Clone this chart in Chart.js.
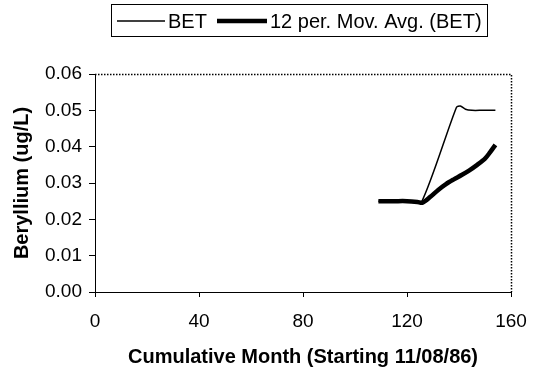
<!DOCTYPE html>
<html>
<head>
<meta charset="utf-8">
<script src="https://cdn.jsdelivr.net/npm/chart.js@4.4.9/dist/chart.umd.min.js"></script>
<style>
  html, body { margin: 0; padding: 0; background: #fff; }
  #wrap { width: 533px; height: 375px; }
</style>
</head>
<body>
<div id="wrap"><canvas id="myChart" width="533" height="375"></canvas></div>
<script>
// raw BET readings (month, ug/L)
const betMonths = [109, 113, 117, 121, 125.5, 139, 140.5, 142.5, 145, 149, 154];
const betValues = [0.025, 0.025, 0.025, 0.025, 0.0246, 0.0508, 0.0512, 0.0503, 0.0500, 0.0500, 0.0500];

// 12 period moving average
const avgMonths = [109, 115, 120, 124, 126, 129, 132, 135, 138, 141, 144, 147, 150, 152, 154];
const avgValues = [0.025, 0.025, 0.025, 0.0248, 0.0246, 0.0262, 0.0281, 0.0297, 0.0310, 0.0322, 0.0335, 0.0350, 0.0367, 0.0385, 0.0405];

const xTicks = [0, 40, 80, 120, 160];
const yTicks = [0, 0.01, 0.02, 0.03, 0.04, 0.05, 0.06];

const seriesNames = ["BET", "12 per. Mov. Avg. (BET)"];

const FONT = "'Liberation Sans', Arial, sans-serif";

// dotted frame on top and right + boxed legend like the old excel chart
const frameAndLegend = {
  id: "frameAndLegend",
  afterDraw(chart) {
    const { ctx, chartArea: a } = chart;
    ctx.save();
    ctx.strokeStyle = "#000";
    ctx.lineWidth = 1.5;
    ctx.setLineDash([1.5, 1.5]);
    ctx.beginPath();
    ctx.moveTo(a.left, a.top + 0.5);
    ctx.lineTo(a.right + 0.5, a.top + 0.5);
    ctx.lineTo(a.right + 0.5, a.bottom);
    ctx.stroke();
    ctx.setLineDash([]);

    // legend
    ctx.lineWidth = 1;
    ctx.strokeRect(111.5, 4.5, 376, 32);
    const ly = 21;
    ctx.beginPath();
    ctx.lineWidth = 1.5;
    ctx.moveTo(117, ly);
    ctx.lineTo(165, ly);
    ctx.stroke();
    ctx.beginPath();
    ctx.lineWidth = 4.5;
    ctx.moveTo(217, ly);
    ctx.lineTo(267, ly);
    ctx.stroke();
    ctx.fillStyle = "#000";
    ctx.font = "20px " + FONT;
    ctx.textBaseline = "middle";
    ctx.fillText(seriesNames[0], 168, ly + 1);
    ctx.fillText(seriesNames[1], 270, ly + 1);
    ctx.restore();
  }
};

const $canvas = document.getElementById("myChart");

let myChart = new Chart($canvas, {
  type: "scatter",
  data: {
    datasets: [
      {
        label: seriesNames[0],
        data: betMonths.map((m, i) => ({ x: m, y: betValues[i] })),
        showLine: true,
        borderColor: "#000",
        borderWidth: 1.5,
        pointRadius: 0,
        tension: 0.25,
      },
      {
        label: seriesNames[1],
        data: avgMonths.map((m, i) => ({ x: m, y: avgValues[i] })),
        showLine: true,
        borderColor: "#000",
        borderWidth: 4.5,
        pointRadius: 0,
        tension: 0.3,
      },
    ],
  },
  options: {
    responsive: false,
    animation: false,
    layout: { padding: { top: 74, right: 22, left: 0, bottom: 0 } },
    plugins: {
      legend: { display: false },
      tooltip: { enabled: false },
    },
    scales: {
      x: {
        type: "linear",
        min: 0,
        max: 160,
        afterBuildTicks: (scale) => { scale.ticks = xTicks.map((v) => ({ value: v })); },
        afterFit: (scale) => {
          scale.height = 83;
          // the 160 label may hang past the plot, there is room for it
          scale.paddingLeft = 0;
          scale.paddingRight = 0;
        },
        border: { color: "#000", width: 1 },
        grid: { drawOnChartArea: false, color: "#000", tickLength: 5 },
        ticks: { color: "#000", font: { family: FONT, size: 19 }, padding: 13, maxRotation: 0 },
        title: {
          display: true,
          text: "Cumulative Month (Starting 11/08/86)",
          color: "#000",
          font: { family: FONT, size: 20, weight: "bold" },
          padding: { top: 0, bottom: 6 },
        },
      },
      y: {
        min: 0,
        max: 0.06,
        afterBuildTicks: (scale) => { scale.ticks = yTicks.map((v) => ({ value: v })); },
        afterFit: (scale) => {
          scale.width = 95;
          scale.paddingTop = 0;
          scale.paddingBottom = 0;
        },
        border: { color: "#000", width: 1 },
        grid: { drawOnChartArea: false, color: "#000", tickLength: 6 },
        ticks: {
          color: "#000",
          font: { family: FONT, size: 19 },
          padding: 7,
          callback: (v) => v.toFixed(2),
        },
        title: {
          display: true,
          text: "Beryllium (ug/L)",
          color: "#000",
          font: { family: FONT, size: 20, weight: "bold" },
          padding: { top: 10, bottom: 0 },
        },
      },
    },
  },
  plugins: [frameAndLegend],
});
</script>
</body>
</html>
